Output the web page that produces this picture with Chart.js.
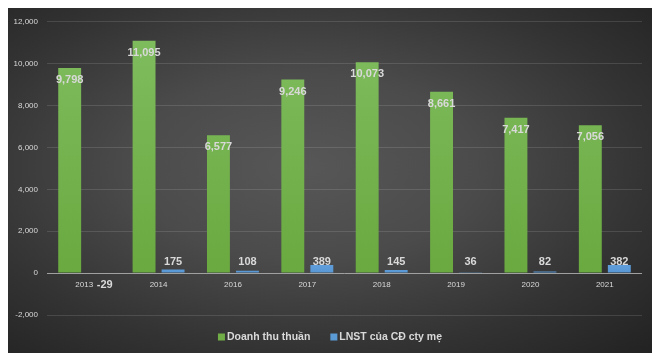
<!DOCTYPE html>
<html>
<head>
<meta charset="utf-8">
<script src="https://cdn.jsdelivr.net/npm/chart.js@4.4.1/dist/chart.umd.min.js"></script>
<style>
  html,body{margin:0;padding:0;background:#fff;}
  #box{position:absolute;left:8px;top:8px;width:644px;height:345px;
    background:radial-gradient(ellipse farthest-corner at 46% 46%, #575757 0%, #4b4b4b 35%, #333 70%, #222 100%);}
  canvas{display:block;}
</style>
</head>
<body>
<div id="box"><canvas id="c" width="644" height="345"></canvas></div>
<script>
const categories = ["2013","2014","2016","2017","2018","2019","2020","2021"];
const revenue = [9798, 11095, 6577, 9246, 10073, 8661, 7417, 7056];
const profit = [-29, 175, 108, 389, 145, 36, 82, 382];
const seriesNames = ["Doanh thu thuần", "LNST của CĐ cty mẹ"];
const yTicks = {min: -2000, max: 12000, step: 2000};

const FONT = "'Liberation Sans', Arial, sans-serif";
const TXT = '#d9d9d9';
const GREEN = '#70ad47';
const BLUE = '#5b9bd5';

function grad(ctx, top, bottom, c1, c2){
  const g = ctx.createLinearGradient(0, top, 0, bottom);
  g.addColorStop(0, c1); g.addColorStop(1, c2);
  return g;
}

const overlay = {
  id: 'overlay',
  afterDatasetsDraw(chart){
    const ctx = chart.ctx;
    const xs = chart.scales.x, ys = chart.scales.y;
    const ca = chart.chartArea;
    const base = ys.getPixelForValue(0);
    // zero axis line
    ctx.save();
    ctx.strokeStyle = '#a0a0a0';
    ctx.lineWidth = 1;
    ctx.beginPath();
    ctx.moveTo(ca.left, Math.round(base) + 0.5);
    ctx.lineTo(ca.right, Math.round(base) + 0.5);
    ctx.stroke();
    // category labels
    ctx.fillStyle = TXT;
    ctx.font = "8px " + FONT;
    ctx.textAlign = 'center';
    ctx.textBaseline = 'middle';
    categories.forEach((c, i) => {
      ctx.fillText(c, xs.getPixelForValue(i), base + 12);
    });
    // data labels
    ctx.font = "bold 11px " + FONT;
    const m0 = chart.getDatasetMeta(0), m1 = chart.getDatasetMeta(1);
    m0.data.forEach((bar, i) => {
      ctx.fillText(revenue[i].toLocaleString('en-US'), bar.x, bar.y + 12);
    });
    m1.data.forEach((bar, i) => {
      const v = profit[i];
      if (v >= 0) ctx.fillText(v.toLocaleString('en-US'), bar.x, base - 11.5);
      else ctx.fillText(v.toLocaleString('en-US'), bar.x + 6, base + 12);
    });
    // legend
    ctx.font = "bold 10.5px " + FONT;
    ctx.textAlign = 'left';
    const colors = [GREEN, BLUE];
    const box = 7, gap = 2, spacing = 20;
    const widths = seriesNames.map(n => ctx.measureText(n).width);
    const total = widths.reduce((a, w) => a + box + gap + w, 0) + spacing;
    let x = chart.width / 2 - total / 2;
    const ly = 329;
    seriesNames.forEach((n, i) => {
      ctx.fillStyle = colors[i];
      ctx.fillRect(x, ly - 3.5, box, box);
      ctx.fillStyle = TXT;
      ctx.fillText(n, x + box + gap, ly);
      x += box + gap + widths[i] + spacing;
    });
    ctx.restore();
  }
};

new Chart(document.getElementById('c'), {
  type: 'bar',
  data: {
    labels: categories,
    datasets: [
      {
        label: seriesNames[0], data: revenue,
        backgroundColor: (c) => { const a = c.chart.chartArea; return a ? grad(c.chart.ctx, a.top, a.bottom, '#80bd60', '#66a63a') : GREEN; },
        categoryPercentage: 0.78, barPercentage: 0.79
      },
      {
        label: seriesNames[1], data: profit,
        backgroundColor: (c) => { const a = c.chart.chartArea; return a ? grad(c.chart.ctx, a.top + 230, a.top + 262, '#6aa8e0', '#4f8fd0') : BLUE; },
        categoryPercentage: 0.78, barPercentage: 0.79
      }
    ]
  },
  options: {
    responsive: false,
    animation: false,
    devicePixelRatio: 1,
    layout: {padding: {left: 0, right: 10, top: 11, bottom: 38}},
    plugins: {legend: {display: false}, tooltip: {enabled: false}},
    scales: {
      x: {display: false},
      y: {
        min: yTicks.min, max: yTicks.max,
        ticks: {stepSize: yTicks.step, color: TXT, font: {family: FONT, size: 8}, padding: 9},
        grid: {color: 'rgba(255,255,255,0.12)', drawTicks: false, lineWidth: 1},
        border: {display: false},
        afterFit(scale){ scale.width = 39; }
      }
    }
  },
  plugins: [overlay]
});
</script>
</body>
</html>
